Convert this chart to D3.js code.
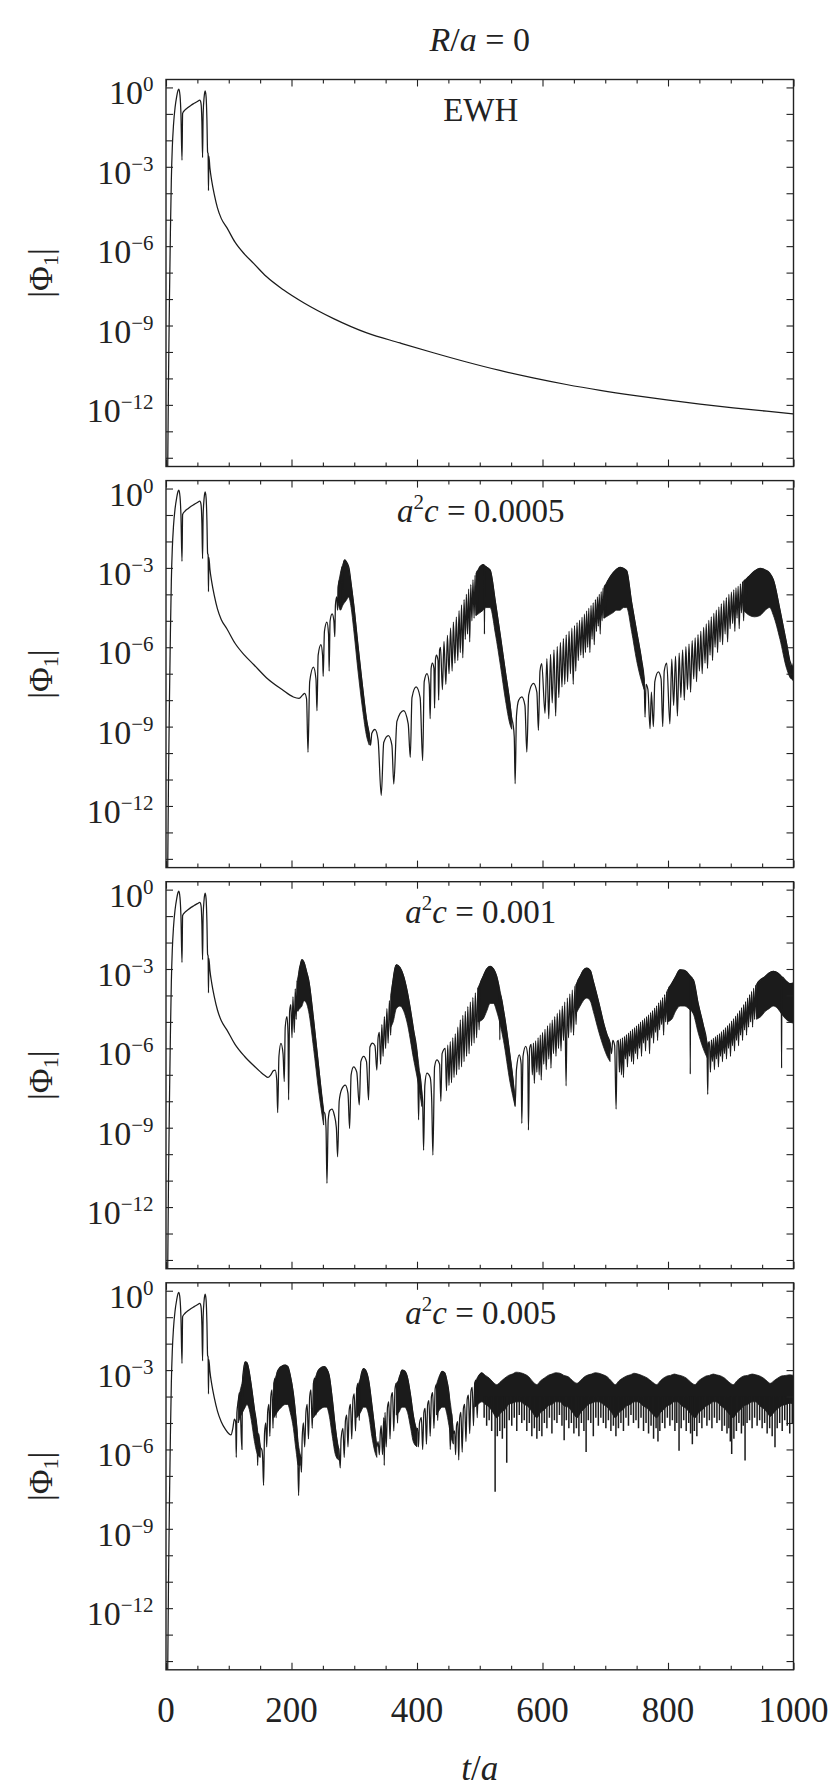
<!DOCTYPE html>
<html>
<head>
<meta charset="utf-8">
<script src="https://cdn.jsdelivr.net/npm/d3@7"></script>
<style>
  body { margin: 0; background: #fff; }
  text { font-family: "Liberation Serif", "DejaVu Serif", serif; fill: #222; }
</style>
</head>
<body>
<div id="chart"></div>
<script>
// values are [t/a, log10|Phi_1|]
var transient = [[2.5,-15],[4,-11],[5.5,-8],[7,-5.5],[8.5,-3.5],[10,-2.3],[12,-1.4],[14.5,-0.75],[17,-0.35],[19,-0.12],[20.5,-0.06],
  [22.3,-0.3],[23.8,-1.0],[25.5,-2.75],[26.5,-0.98],[30,-0.86],[35,-0.76],[40,-0.67],[45,-0.6],[50,-0.53],[54,-0.48],
  [55.8,-0.6],[57.2,-1.3],[58.3,-2.65],[59.2,-1.0],[60.7,-0.38],[62.4,-0.13],[63.9,-0.35],[65.2,-1.2],[66.3,-2.45],
  [67.1,-2.5],[67.7,-3.9],[68.3,-2.6],[70,-3.05]];

var ewhTail = [[73,-3.55],[77,-4.05],[82,-4.55],[88,-4.95],[97,-5.3],[110,-5.85],[125,-6.3],[140,-6.66],[160,-7.15],
  [187,-7.65],[220,-8.15],[267,-8.74],[320,-9.28],[373,-9.66],[426,-10.03],[479,-10.38],[532,-10.7],[585,-10.98],
  [638,-11.23],[692,-11.45],[745,-11.64],[798,-11.81],[851,-11.97],[904,-12.11],[957,-12.24],[1000,-12.34]];

var tail0005 = [[73,-3.55],[77,-4.05],[82,-4.55],[88,-4.95],[97,-5.3],[110,-5.85],[125,-6.3],[140,-6.66],[160,-7.15],
  [185,-7.6],[203,-7.88],[212,-7.93],[218,-7.8],[221,-7.74],[224,-7.95],
  [226.3,-9.97],[229,-7.3],[234.9,-6.75],[239,-7.2],[240.6,-8.4],[242.5,-6.3],[246.9,-5.9],[249.5,-6.3],[250.5,-7.1],
  [252.5,-5.4],[256.4,-5.05],[259,-5.5],[260,-6.9],[261.5,-5.0],[264.8,-4.74],[267.5,-5.0],[269,-5.6],[270,-4.4],
  [272,-4.1],[273.5,-4.6],[274.5,-3.8],[276.5,-3.45],[278,-4.5],[279,-3.2],[281,-2.95],[282,-3.8],[283,-2.8],
  [284.7,-2.7],[287,-2.75],[289.5,-2.85],[291.6,-3.0],[295,-3.6],[299,-4.36],[306,-5.95],[313,-7.45],[320,-8.8],[323.8,-9.28],
  [326,-9.7],[328,-9.25],[333,-9.1],[338,-9.5],[343,-11.6],[347,-9.6],[354.4,-9.34],[360,-9.7],[363,-11.17],[368,-8.8],
  [378.6,-8.4],[386,-8.9],[389.3,-10.16],[392,-7.9],[398.6,-7.5],[405,-7.9],[409,-10.29],[411.5,-7.3],[416,-7.0],
  [419.5,-7.4],[421,-8.7],
  [422.5,-6.8],[424.5,-6.6],[427,-6.8],[428,-8.3],[429.5,-6.45],[431,-6.3],[433.5,-6.5],[434.5,-8.0],[436,-6.1],
  [437.5,-6.0],[440.5,-7.6],[443,-5.78],[446,-7.4],[448.5,-5.55],[451,-7.0],[453.5,-5.28],[456,-6.9],[458,-5.05],
  [460.5,-6.6],[462.7,-4.86],[465,-6.5],[467,-4.62],[469,-6.2],[471,-4.4],[473,-6.4],[475,-4.2],[477,-5.7],[478.7,-4.0],
  [480.5,-5.5],[482.3,-3.8],[484,-5.8],[485.7,-3.63],[487.5,-5.0],[489.2,-3.45],[491,-4.9],[492.5,-3.28],[494,-4.8],
  [495.5,-3.12],[497,-4.6],[499,-3.0],[502,-2.92],[505.5,-2.88],[507,-2.9],[507.5,-5.5],[508,-2.93],[512,-3.0],
  [516.5,-3.08],[525,-4.3],[533,-5.6],[541,-6.95],[548,-8.1],[551,-8.7],
  [553,-8.9],[555,-9.4],[556.4,-11.16],[558.5,-8.6],[562,-8.0],[567,-7.88],[572,-8.2],[575,-9.96],[578,-7.8],
  [585.6,-7.37],[591,-7.7],[593.5,-9.14],[596,-6.9],[598.8,-6.62],
  [604,-8.5],[607,-6.43],[610,-8.7],[612.8,-6.27],[615.5,-8.1],[618.3,-6.1],[621,-8.6],[623.5,-5.97],[626,-7.9],
  [628.5,-5.82],[631,-7.5],[633.3,-5.67],[635.5,-7.4],[637.8,-5.53],[640,-7.3],[642.3,-5.4],[644.5,-7.0],[646.8,-5.28],
  [649,-7.4],[651,-5.18],[653,-6.9],[655,-5.07],[657,-6.5],[659,-4.98],[661,-6.3],[663,-4.87],[665,-6.4],[666.8,-4.75],
  [668.5,-6.2],[670.3,-4.63],[672,-6.0],[673.8,-4.53],[675.5,-6.2],[677.3,-4.42],[679,-5.7],[680.8,-4.32],[682.5,-5.9],
  [684.3,-4.2],[686,-5.4],[687.5,-4.1],[689,-5.2],[690.5,-4.0],[692,-5.5],[693.5,-3.9],[695,-5.0],[696.5,-3.77],
  [698,-4.9],[699.5,-3.65],[701,-4.7],[703,-3.55],[705,-3.45],[712,-3.2],[718,-3.05],[723.6,-2.98],[729,-3.02],
  [734,-3.1],[742,-4.3],[750,-5.4],[758,-6.5],
  [762,-7.2],[763.4,-8.64],[765,-7.4],[768,-7.6],[771.4,-9.08],[773.5,-7.7],[776.7,-9.0],[779,-7.3],[784.7,-6.93],
  [789,-7.2],[791.6,-9.0],[794,-6.9],[798,-6.6],
  [803,-8.9],[806,-6.45],[809,-8.2],[812,-6.34],[815,-8.6],[817.8,-6.22],[820.5,-7.9],[823.3,-6.1],[826,-8.0],
  [828.5,-5.98],[831,-7.6],[833.5,-5.88],[836,-7.7],[838.5,-5.75],[841,-7.2],[843.3,-5.65],[845.5,-7.3],[847.8,-5.52],
  [850,-6.9],[852.3,-5.4],[854.5,-7.0],[856.8,-5.25],[859,-6.6],[861,-5.12],[863,-6.8],[865,-4.98],[867,-6.3],
  [869,-4.85],[871,-6.5],[873,-4.72],[875,-6.0],[877,-4.6],[879,-6.2],[881,-4.48],[883,-5.8],[885,-4.36],[887,-5.9],
  [889,-4.24],[891,-5.5],[893,-4.12],[895,-5.8],[897,-4.0],[899,-5.3],[901,-3.92],[903,-5.1],[904.8,-3.83],[906.5,-5.4],
  [908.3,-3.76],[910,-4.9],[911.8,-3.7],[913.5,-5.3],[915.3,-3.6],[917,-4.7],[918.8,-3.53],[920.5,-5.0],[922.3,-3.46],
  [924,-4.6],[926,-3.4],[930,-3.3],[938,-3.12],[946.6,-3.02],[955,-3.08],[962,-3.2],[968,-3.46],[978.5,-4.6],
  [989,-5.86],[994,-6.5],[997,-6.74],[998.5,-7.25],[1000,-6.6]];

// dense oscillation zones: [t/a, upper, lower] in log10
var bands0005 = [
  [[274,-3.7,-4.3],[278,-3.2,-4.6],[282,-2.85,-4.4],[285,-2.7,-4.3],[288,-2.8,-4.2],[291,-3.0,-4.1],[295,-3.6,-4.5],
   [299,-4.36,-5.3],[306,-5.95,-6.9],[313,-7.45,-8.3],[320,-8.8,-9.4],[324,-9.28,-9.7]],
  [[494,-3.2,-4.8],[500,-2.98,-4.7],[505.5,-2.88,-4.6],[510,-2.95,-4.5],[516.5,-3.08,-4.5],[525,-4.3,-5.5],
   [533,-5.6,-6.7],[541,-6.95,-8.0],[548,-8.1,-8.9],[551,-8.7,-9.1]],
  [[698,-3.72,-4.9],[705,-3.45,-4.8],[712,-3.2,-4.7],[718,-3.05,-4.6],[723.6,-2.98,-4.6],[729,-3.02,-4.5],
   [734,-3.1,-4.5],[742,-4.3,-5.4],[750,-5.4,-6.5],[758,-6.5,-7.3],[762,-7.2,-7.6]],
  [[920,-3.5,-4.6],[930,-3.3,-4.8],[938,-3.12,-4.85],[946.6,-3.02,-4.8],[955,-3.08,-4.6],[962,-3.2,-4.5],
   [968,-3.46,-4.8],[978.5,-4.6,-5.7],[989,-5.86,-6.8],[997,-6.74,-7.2],[1000,-6.6,-7.1]]
];

var tail001 = [[73,-3.55],[77,-4.05],[82,-4.55],[88,-4.95],[97,-5.3],[110,-5.85],[125,-6.3],[140,-6.66],[150,-6.88],
  [157,-7.02],[162.5,-7.1],[167,-7.0],[171,-6.85],[174,-6.82],[176.5,-7.2],[178,-8.43],[180,-6.3],[183.2,-5.81],
  [186.5,-6.2],[188.5,-7.26],[190,-5.2],[192.8,-4.8],[194.5,-5.5],[195.4,-7.95],[197,-4.6],[199,-4.35],[200.8,-5.6],
  [202.3,-4.05],[204.5,-5.4],[206,-3.75],[207.5,-4.9],[209,-3.45],[210.5,-4.6],[212,-3.1],[214,-2.85],[216.6,-2.65],
  [220,-2.75],[224,-3.1],[227.3,-3.41],[235.2,-4.92],[243.2,-6.69],[248.5,-7.9],[251.2,-8.4],
  [253,-8.45],[255,-9.0],[256.5,-11.1],[258.5,-8.7],[261,-8.35],[264.4,-8.3],[268,-8.5],[271.5,-9.0],[273.5,-10.1],
  [276,-8.0],[280,-7.55],[285.7,-7.39],[290,-7.7],[292.6,-9.03],[295,-7.0],[299,-6.7],[304,-6.9],[308,-8.14],
  [310.5,-6.5],[315,-6.3],[319.5,-6.5],[322.8,-7.95],[325,-5.95],[329,-5.8],[333,-5.9],[336,-6.82],
  [338,-5.6],[340,-5.4],[342,-6.6],[344,-5.1],[346,-6.3],[348,-4.8],[350,-6.0],[352,-4.5],[354,-5.8],[356,-4.2],
  [358,-5.5],[360,-3.9],[362,-3.4],[367,-2.84],[373,-2.95],[379,-3.3],[384,-3.8],[394.5,-5.3],[401,-6.4],[402.5,-8.7],
  [404,-6.9],[407.8,-7.7],[409,-8.0],[410.5,-9.85],[412.5,-7.4],[415.8,-6.94],[421,-7.1],[423.5,-8.0],[425.3,-10.04],
  [428,-6.7],[431.7,-6.44],[436,-6.6],[438,-8.0],[440,-6.2],[445,-6.0],
  [447,-7.6],[449,-5.88],[451,-7.4],[453,-5.75],[455,-7.3],[457,-5.6],[459,-7.1],[461,-5.45],[463,-7.0],[465,-5.2],
  [467,-6.8],[469,-4.92],[471,-6.7],[473,-4.75],[475,-6.5],[477,-4.6],[479,-6.3],[481,-4.42],[483,-6.2],[485,-4.25],
  [487,-5.9],[489,-4.08],[491,-5.8],[493,-3.9],[495,-5.6],[497,-3.72],[499,-5.3],[501,-3.55],[505,-3.3],[511,-3.0],
  [516.5,-2.9],[522,-3.0],[527,-3.28],[531.5,-3.9],[532,-5.68],[532.5,-3.95],[537.8,-4.55],[548.4,-6.31],[553,-7.2],
  [556.4,-8.14],[558.5,-6.8],[563,-6.25],[566,-6.6],[567,-8.84],[569,-6.3],[573.3,-5.93],[576.5,-6.3],[577.6,-9.09],
  [579.5,-6.0],
  [582,-5.85],[583.8,-7.0],[585.6,-5.8],[587,-7.32],[589,-5.72],[591,-6.9],[593,-5.6],[594.7,-7.0],[596.5,-5.5],
  [598,-7.2],[600,-5.4],[602,-6.6],[604,-5.28],[606,-6.8],[608,-5.15],[610,-6.4],[612,-5.05],[613.5,-6.75],
  [615.5,-4.93],[617.5,-6.2],[619.5,-4.8],[621.5,-6.3],[623.5,-4.68],[625.5,-6.0],[627.5,-4.55],[629.5,-6.1],
  [631.5,-4.4],[633.5,-5.7],[635.5,-4.25],[637.6,-7.42],[639.5,-4.1],[641.5,-5.6],[643.5,-3.95],[645.5,-5.4],
  [647.5,-3.8],[649.5,-5.5],[651.5,-3.65],[653.5,-5.1],[655.5,-3.5],[660,-3.28],[665,-3.05],[670.5,-2.97],[676,-3.05],
  [681,-3.47],[690,-4.3],[698,-5.1],[703,-5.5],[707.7,-5.8],[710,-6.2],[712,-5.7],[715,-5.9],[717.3,-8.3],[719,-5.75],
  [721,-5.7],[722.6,-6.9],[724.2,-5.65],[725.8,-7.0],[727.4,-5.6],[729,-7.1],[730.6,-5.55],[732.2,-6.4],[733.8,-5.48],
  [735.4,-6.7],[737,-5.42],[738.6,-6.3],[740.2,-5.35],[741.8,-6.5],[743.4,-5.28],[745,-6.6],[746.6,-5.22],[748.2,-6.2],
  [749.8,-5.15],[751.4,-6.4],[753,-5.08],[754.6,-6.0],[756.2,-5.01],[757.8,-6.3],[759.4,-4.94],[761,-5.8],[762.6,-4.87],
  [764.2,-6.1],[765.8,-4.8],[767.4,-5.7],[769,-4.73],[770.6,-6.2],[772.2,-4.65],[773.8,-5.6],[775.4,-4.57],[777,-5.8],
  [778.6,-4.48],[780.2,-5.4],[781.8,-4.39],[783.4,-5.7],[785,-4.28],[786.6,-5.3],[788.2,-4.18],[789.8,-5.1],
  [791.4,-4.08],[793,-5.5],[794.6,-3.97],[796.2,-5.0],[797.8,-3.86],[799.4,-5.1],[801,-3.73],[804.2,-3.62],[812,-3.3],
  [819,-3.03],[826,-3.05],[833,-3.2],[835,-3.3],[835.5,-6.97],[836,-3.35],[840.4,-3.41],[848,-4.3],[856,-5.1],
  [862,-5.8],[863.3,-7.74],[864.5,-5.8],
  [866,-5.75],[867.6,-6.9],[869.2,-5.68],[870.8,-6.5],[872.4,-5.62],[874,-6.8],[875.6,-5.56],[877.2,-6.4],[878.8,-5.5],
  [880.4,-6.7],[882,-5.44],[883.6,-6.3],[885.2,-5.37],[886.8,-6.5],[888.4,-5.3],[890,-6.2],[891.6,-5.22],[893.2,-6.4],
  [894.8,-5.14],[896.4,-6.0],[898,-5.06],[899.6,-6.3],[901.2,-4.97],[902.8,-5.9],[904.4,-4.88],[906,-6.1],[907.6,-4.78],
  [909.2,-5.7],[910.8,-4.68],[912.4,-5.9],[914,-4.57],[915.6,-5.5],[917.2,-4.46],[918.8,-5.7],[920.4,-4.35],[922,-5.3],
  [923.6,-4.23],[925.2,-5.5],[926.8,-4.1],[928.4,-5.2],[930,-3.97],[931.6,-5.0],[933.2,-3.85],[934.8,-5.2],[936.4,-3.73],
  [938,-4.9],[939.6,-3.62],[941.2,-4.8],[942.8,-3.52],[946,-3.43],[955,-3.28],[961,-3.15],[967.9,-3.09],[975,-3.15],
  [980.5,-3.28],[981,-6.75],[981.5,-3.3],[988,-3.45],[994,-3.55],[1000,-3.53]];

var bands001 = [
  [[209,-3.45,-4.6],[213,-3.0,-4.5],[216.6,-2.65,-4.4],[220,-2.75,-4.2],[224,-3.1,-4.3],[227.3,-3.41,-4.6],
   [235.2,-4.92,-6.0],[243.2,-6.69,-7.6],[251.2,-8.33,-8.9]],
  [[358,-4.0,-5.2],[362,-3.4,-5.0],[367,-2.84,-4.5],[373,-2.95,-4.4],[379,-3.3,-4.6],[384,-3.8,-5.0],
   [394.5,-5.3,-6.4],[402.5,-6.57,-7.4],[407.8,-7.7,-8.2]],
  [[497,-3.72,-5.0],[505,-3.3,-4.9],[511,-3.0,-4.6],[516.5,-2.9,-4.3],[522,-3.0,-4.3],[527,-3.28,-4.6],
   [537.8,-4.55,-5.7],[548.4,-6.31,-7.3],[556.4,-7.83,-8.2]],
  [[653,-3.6,-4.7],[660,-3.28,-4.4],[665,-3.05,-4.2],[670.5,-2.97,-4.1],[676,-3.05,-4.2],[681,-3.47,-4.6],
   [690,-4.3,-5.4],[698,-5.1,-6.0],[703,-5.5,-6.3],[707.7,-5.8,-6.5]],
  [[799,-3.8,-5.0],[806,-3.55,-4.9],[812,-3.3,-4.6],[819,-3.03,-4.4],[826,-3.05,-4.4],[833,-3.2,-4.5],
   [840.4,-3.41,-4.7],[848,-4.3,-5.4],[856,-5.1,-6.0],[863.3,-5.93,-6.4]],
  [[941,-3.57,-4.9],[948,-3.4,-4.8],[955,-3.28,-4.6],[961,-3.15,-4.5],[967.9,-3.09,-4.4],[975,-3.15,-4.5],
   [981,-3.3,-4.7],[988,-3.45,-4.9],[994,-3.55,-5.0],[1000,-3.53,-5.05]]
];

var tail005 = [[73,-3.55],[77,-4.05],[82,-4.55],[88,-4.95],[95,-5.25],[100,-5.4],[103.5,-5.45],[106.5,-5.2],[109,-4.85],
  [111,-4.95],[112,-6.3],[113,-4.6],[115,-4.2],[117,-3.85],[118.5,-4.5],[121,-6.0],[122,-3.4],[123.5,-3.0],
  [126.3,-2.69],[129,-2.72],[131.7,-2.95],[136,-3.6],[141,-4.5],[145,-5.2],[146,-6.6],[147.5,-5.4],[150.3,-5.9],
  [152.9,-6.03],[154,-6.3],[155.5,-7.36],[157,-5.4],[159,-5.0],[160.5,-5.9],[162,-4.6],[164,-4.3],[165.5,-5.5],[167,-4.0],
  [169,-3.75],[170.5,-5.2],[172,-3.5],[174,-3.3],[175.5,-4.8],[177,-3.1],[180,-2.95],[184,-2.86],[190,-2.81],[194,-2.86],
  [198,-3.2],[203,-3.9],[207,-4.8],[209.5,-5.6],[211.3,-7.74],[213,-6.2],[214.5,-6.3],[215.8,-6.86],[217,-5.6],
  [219,-5.0],[221,-5.9],[223,-4.6],[225,-4.3],[227,-5.6],[229,-4.0],[231,-3.75],[233,-5.2],[235,-3.5],[237,-3.3],
  [239,-4.7],[241,-3.1],[245,-2.95],[252.2,-2.87],[256,-2.95],[260,-3.2],[265,-4.1],[270,-5.2],[274,-5.9],[275.5,-6.0],
  [277.7,-6.7],[279,-5.6],[282,-5.2],[284,-6.3],[286,-4.9],[288,-4.7],[290,-5.9],[292,-4.5],[294,-4.3],[296,-5.6],
  [298,-4.1],[300,-3.9],[302,-5.3],[304,-3.7],[306,-3.5],[308,-4.9],[310,-3.3],[314.8,-2.94],[318,-3.0],[323,-3.4],
  [328,-4.3],[333,-5.3],[336,-5.9],[338,-5.7],[340,-6.2],[341.5,-5.4],[343,-5.1],[345,-6.2],[347,-4.8],[347.8,-6.6],
  [349,-4.6],[351,-5.9],[353,-4.4],[355,-4.2],[357,-5.6],[359,-4.0],[361,-3.85],[363,-5.3],[365,-3.7],[367,-3.5],
  [369,-5.0],[371,-3.35],[374,-3.15],[376,-3.0],[380,-3.03],[385,-3.3],[390,-4.0],[394,-4.7],[397,-5.1],[400,-5.27],
  [401,-5.2],[402.4,-5.9],[404,-5.0],[407,-4.8],[409,-6.0],[411,-4.6],[413,-4.45],[415,-5.8],[417,-4.3],[419,-4.15],
  [421,-5.5],[423,-4.0],[425,-3.85],[427,-5.2],[429,-3.7],[431,-3.55],[433,-4.9],[435,-3.4],[438,-3.15],[440,-3.05],
  [444,-3.1],[448,-3.45],[451,-3.9],[453,-6.0],[455,-4.6],[458,-5.4],[460,-5.3],[461.5,-6.2],[463,-5.1],[465,-4.95],
  [466.5,-6.4],[468,-4.8],[470,-4.6],[472,-6.1],[474,-4.45],[476,-4.3],[478,-5.7],[480,-4.1],[482,-3.95],[484,-5.4],
  [486,-3.8],[488,-3.65],[490,-5.1],[492,-3.5],[494,-3.38],[496,-4.8],[498,-3.25],[503.3,-3.1]];

var bands005 = [
  [[115,-4.2,-5.0],[118,-3.8,-4.8],[122,-3.4,-4.6],[126.3,-2.69,-4.4],[129,-2.72,-4.3],[131.7,-2.95,-4.4],
   [136,-3.6,-4.9],[141,-4.5,-5.7],[146,-5.3,-6.2],[150.3,-5.9,-6.3]],
  [[172,-3.5,-4.8],[177,-3.1,-4.6],[184,-2.86,-4.4],[190,-2.81,-4.3],[194,-2.86,-4.3],[198,-3.2,-4.6],
   [203,-3.9,-5.2],[207,-4.8,-6.0],[211,-5.8,-6.6],[214,-6.2,-6.6]],
  [[235,-3.5,-4.8],[241,-3.1,-4.6],[245,-2.95,-4.5],[252.2,-2.87,-4.4],[256,-2.95,-4.4],[260,-3.2,-4.7],
   [265,-4.1,-5.5],[270,-5.2,-6.2],[275,-5.95,-6.4]],
  [[304,-3.7,-4.8],[310,-3.3,-4.6],[314.8,-2.94,-4.4],[318,-3.0,-4.4],[323,-3.4,-4.7],[328,-4.3,-5.5],
   [333,-5.3,-6.1],[336,-5.9,-6.3]],
  [[367,-3.5,-4.7],[371,-3.35,-4.6],[376,-3.0,-4.4],[380,-3.03,-4.4],[385,-3.3,-4.6],[390,-4.0,-5.2],
   [394,-4.7,-5.7],[400,-5.27,-5.9]],
  [[431,-3.55,-4.7],[436,-3.2,-4.5],[440,-3.05,-4.4],[444,-3.1,-4.4],[448,-3.45,-4.7],[451,-3.9,-5.1],
   [455,-4.6,-5.6],[458,-5.4,-5.8]],
  [[492,-3.5,-4.4],[497,-3.25,-4.3],[503.3,-3.1,-4.2],[509,-3.2,-4.3],[515,-3.3,-4.4],[521,-3.45,-4.6],
   [527,-3.55,-4.8],[534,-3.42,-4.6],[540,-3.3,-4.5],[546,-3.2,-4.3],[552,-3.15,-4.25],[558,-3.08,-4.2],
   [565,-3.1,-4.2],[571,-3.15,-4.3],[578,-3.25,-4.4],[584,-3.42,-4.6],[591,-3.55,-4.8],[597,-3.4,-4.6],
   [603,-3.3,-4.5],[609,-3.2,-4.35],[615,-3.15,-4.3],[621,-3.1,-4.2],[628,-3.12,-4.2],[634,-3.2,-4.35],
   [641,-3.25,-4.4],[648,-3.4,-4.6],[655,-3.5,-4.8],[661,-3.38,-4.6],[667,-3.25,-4.45],[673,-3.18,-4.3],
   [678,-3.15,-4.25],[684,-3.1,-4.2],[690,-3.12,-4.2],[697,-3.18,-4.3],[703,-3.25,-4.4],[710,-3.42,-4.6],
   [716,-3.55,-4.8],[722,-3.4,-4.6],[728,-3.3,-4.5],[734,-3.22,-4.35],[740,-3.18,-4.3],[746,-3.12,-4.2],
   [752,-3.15,-4.2],[760,-3.22,-4.35],[767,-3.3,-4.45],[775,-3.45,-4.65],[782,-3.55,-4.8],[788,-3.4,-4.6],
   [793,-3.3,-4.5],[799,-3.22,-4.35],[804,-3.2,-4.3],[810,-3.15,-4.2],[815,-3.18,-4.2],[822,-3.22,-4.35],
   [829,-3.3,-4.45],[836,-3.45,-4.65],[843,-3.55,-4.8],[849,-3.4,-4.6],[855,-3.3,-4.5],[861,-3.22,-4.35],
   [866,-3.2,-4.3],[872,-3.15,-4.2],[877,-3.18,-4.2],[884,-3.22,-4.35],[890,-3.3,-4.45],[897,-3.45,-4.65],
   [904,-3.55,-4.8],[910,-3.4,-4.6],[915,-3.3,-4.5],[921,-3.22,-4.35],[927,-3.2,-4.3],[934,-3.15,-4.2],
   [940,-3.18,-4.2],[946,-3.22,-4.35],[952,-3.3,-4.45],[958,-3.42,-4.6],[963,-3.5,-4.75],[969,-3.4,-4.6],
   [975,-3.3,-4.45],[981,-3.22,-4.35],[988,-3.2,-4.3],[994,-3.18,-4.25],[1000,-3.2,-4.3]]
];

// late-time spikes below the dense band of the last panel: [t/a, log10 of spike tip]
var combTop005 = -4.0;
var comb005 = [[507,-4.8],[511,-5.1],[515,-4.9],[519,-5.3],[524.5,-7.6],[528,-5.5],[532,-5.3],[536,-5.6],[539.5,-5.2],
  [543,-6.5],[547,-4.9],[551,-5.1],[555,-4.8],[559,-5.3],[563,-4.7],[567,-5.0],[571,-4.9],[575,-5.3],[579,-5.0],
  [583,-5.5],[587,-5.2],[591,-5.6],[595,-5.3],[599,-5.5],[603,-5.0],[607,-5.2],[611,-4.8],[615,-5.4],[619,-4.9],
  [623,-5.0],[627,-4.7],[631,-5.1],[634.5,-5.65],[638,-4.9],[642,-5.2],[646,-5.0],[650,-5.4],[654,-5.2],[658,-5.5],
  [662,-5.0],[666,-5.3],[669.5,-6.1],[673,-4.9],[677,-5.0],[681,-5.5],[685,-4.8],[689,-5.1],[693,-4.8],[697,-5.0],
  [701,-5.2],[705,-4.9],[709,-5.3],[713,-5.1],[717,-5.5],[721,-5.2],[725,-5.0],[729,-5.3],[733,-4.8],[737,-5.1],
  [741,-4.7],[745,-5.0],[749,-4.9],[753,-5.2],[757,-4.8],[761,-5.3],[765,-5.0],[769,-5.4],[773,-5.1],[777,-5.6],
  [781,-5.2],[784,-5.7],[787,-5.3],[791,-5.0],[795,-5.2],[799,-4.8],[803,-5.1],[807,-4.9],[811,-5.3],[814,-5.0],
  [817.6,-6.05],[821,-5.2],[825,-4.9],[829,-5.3],[833,-5.0],[836,-5.4],[838.8,-5.8],[842,-5.3],[846,-5.5],[850,-5.0],
  [854,-5.2],[858,-4.8],[862,-5.1],[866,-4.9],[870,-5.2],[874,-4.8],[878,-5.0],[882,-4.9],[886,-5.3],[890,-5.1],
  [894,-5.4],[897,-5.2],[899.3,-5.7],[901.5,-6.17],[905,-5.6],[909,-5.3],[913,-5.0],[917,-5.4],[920,-5.1],
  [922.8,-6.42],[926,-5.0],[930,-4.9],[934,-5.2],[938,-4.8],[942,-5.1],[946,-4.9],[950,-5.2],[954,-5.0],[958,-5.4],
  [962,-5.2],[966,-5.5],[970.5,-5.92],[974,-5.2],[978,-5.0],[982,-5.3],[986,-4.9],[990,-5.1],[994,-5.4],[998,-5.0]];

var panelLabels = ["EWH", "0.0005", "0.001", "0.005"];
var yTickExps = d3.range(0, -15, -1);
var yLabelExps = [0, -3, -6, -9, -12];
var xMajor = [0, 200, 400, 600, 800, 1000];
var xMinor = d3.range(50, 1000, 50).filter(function(v) { return v % 200 !== 0; });

var svgWidth = 830;
var svgHeight = 1791;
var plotLeft = 166, plotRight = 793.5;
var panelHeight = 387, panelPitch = 401.1, firstTop = 79.5;
var ink = "#222";
var trace = "#1b1b1b";

var svg = d3.select("#chart").append("svg")
  .attr("width", svgWidth)
  .attr("height", svgHeight);

var x = d3.scaleLinear().domain([0, 1000]).range([plotLeft, plotRight]);

var panels = [
  { line: transient.concat(ewhTail), bands: [], comb: [] },
  { line: transient.concat(tail0005), bands: bands0005, comb: [] },
  { line: transient.concat(tail001), bands: bands001, comb: [] },
  { line: transient.concat(tail005), bands: bands005, comb: comb005 }
];

panels.forEach(function(p, i) {
  var top = firstTop + i * panelPitch;
  var bottom = top + panelHeight;
  var y = d3.scaleLog()
    .domain([Math.pow(10, -14.33), Math.pow(10, 0.3)])
    .range([bottom, top]);
  var ly = function(e) { return y(Math.pow(10, e)); };

  var g = svg.append("g");

  g.append("clipPath").attr("id", "clip" + i)
    .append("rect")
    .attr("x", plotLeft).attr("y", top)
    .attr("width", plotRight - plotLeft).attr("height", panelHeight);

  var plot = g.append("g").attr("clip-path", "url(#clip" + i + ")");

  var area = d3.area()
    .x(function(d) { return x(d[0]); })
    .y0(function(d) { return ly(d[2]); })
    .y1(function(d) { return ly(d[1]); })
    .curve(d3.curveMonotoneX);

  plot.selectAll(".band")
    .data(p.bands)
    .enter()
    .append("path")
    .attr("class", "band")
    .attr("d", area)
    .attr("fill", trace)
    .attr("stroke", trace)
    .attr("stroke-width", 0.8);

  plot.selectAll(".spike")
    .data(p.comb)
    .enter()
    .append("line")
    .attr("class", "spike")
    .attr("x1", function(d) { return x(d[0]); })
    .attr("x2", function(d) { return x(d[0]); })
    .attr("y1", ly(combTop005))
    .attr("y2", function(d) { return ly(d[1]); })
    .attr("stroke", trace)
    .attr("stroke-width", 1.5);

  var line = d3.line()
    .x(function(d) { return x(d[0]); })
    .y(function(d) { return ly(d[1]); })
    .curve(d3.curveMonotoneX);

  plot.append("path")
    .datum(p.line)
    .attr("d", line)
    .attr("fill", "none")
    .attr("stroke", trace)
    .attr("stroke-width", 1.25)
    .attr("stroke-linejoin", "round");

  // ticks on all four sides, pointing inward
  var yVals = yTickExps.map(function(e) { return Math.pow(10, e); });
  g.append("g").attr("transform", "translate(" + plotLeft + ",0)")
    .call(d3.axisLeft(y).tickValues(yVals).tickSize(-7).tickFormat(""));
  g.append("g").attr("transform", "translate(" + plotRight + ",0)")
    .call(d3.axisRight(y).tickValues(yVals).tickSize(-7).tickFormat(""));
  g.append("g").attr("transform", "translate(0," + top + ")")
    .call(d3.axisTop(x).tickValues(xMajor).tickSize(-7).tickFormat(""));
  g.append("g").attr("transform", "translate(0," + top + ")")
    .call(d3.axisTop(x).tickValues(xMinor).tickSize(-4).tickFormat(""));
  g.append("g").attr("transform", "translate(0," + bottom + ")")
    .call(d3.axisBottom(x).tickValues(xMajor).tickSize(-7).tickFormat(""));
  g.append("g").attr("transform", "translate(0," + bottom + ")")
    .call(d3.axisBottom(x).tickValues(xMinor).tickSize(-4).tickFormat(""));

  g.selectAll(".domain").remove();
  g.selectAll(".tick line").attr("stroke", ink).attr("stroke-width", 1.1);

  g.append("rect")
    .attr("x", plotLeft).attr("y", top)
    .attr("width", plotRight - plotLeft).attr("height", panelHeight)
    .attr("fill", "none").attr("stroke", ink).attr("stroke-width", 1.4);

  // y tick labels 10^k
  yLabelExps.forEach(function(e) {
    var t = g.append("text")
      .attr("x", 153.5)
      .attr("y", ly(e) + 17)
      .attr("text-anchor", "end")
      .attr("font-size", 34);
    t.append("tspan").text("10");
    t.append("tspan").attr("font-size", 21).attr("dy", -13)
      .text(e === 0 ? "0" : "\u2212" + (-e));
  });

  // y axis title |Phi_1|
  var cy = top + panelHeight / 2;
  var yt = g.append("text")
    .attr("transform", "translate(52," + cy + ") rotate(-90)")
    .attr("text-anchor", "middle")
    .attr("font-size", 34);
  yt.append("tspan").text("|\u03A6");
  yt.append("tspan").attr("font-size", 22).attr("dy", 6).text("1");
  yt.append("tspan").attr("dy", -6).text("|");

  // panel annotation
  var lab = g.append("text")
    .attr("x", (plotLeft + plotRight) / 2 + 1)
    .attr("y", top + 41)
    .attr("text-anchor", "middle")
    .attr("font-size", 33);
  if (i === 0) {
    lab.text(panelLabels[0]);
  } else {
    lab.append("tspan").attr("font-style", "italic").text("a");
    lab.append("tspan").attr("font-size", 21).attr("dy", -13).text("2");
    lab.append("tspan").attr("font-style", "italic").attr("dy", 13).text("c");
    lab.append("tspan").text(" = " + panelLabels[i]);
  }

  if (i === panels.length - 1) {
    g.selectAll(".xlab")
      .data(xMajor)
      .enter()
      .append("text")
      .attr("class", "xlab")
      .attr("x", function(d) { return x(d); })
      .attr("y", bottom + 52)
      .attr("text-anchor", "middle")
      .attr("font-size", 35)
      .text(function(d) { return d; });
  }
});

// title and x axis title
var title = svg.append("text")
  .attr("x", (plotLeft + plotRight) / 2)
  .attr("y", 50.5)
  .attr("text-anchor", "middle")
  .attr("font-size", 34);
title.append("tspan").attr("font-style", "italic").text("R");
title.append("tspan").text("/");
title.append("tspan").attr("font-style", "italic").text("a");
title.append("tspan").text(" = 0");

var xt = svg.append("text")
  .attr("x", (plotLeft + plotRight) / 2)
  .attr("y", 1780)
  .attr("text-anchor", "middle")
  .attr("font-size", 35);
xt.append("tspan").attr("font-style", "italic").text("t");
xt.append("tspan").text("/");
xt.append("tspan").attr("font-style", "italic").text("a");
</script>
</body>
</html>
